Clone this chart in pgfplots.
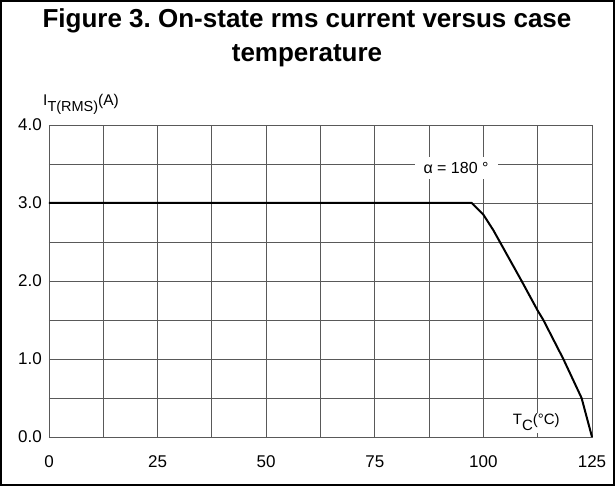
\documentclass[border=0pt]{standalone}
\usepackage{fontspec}
\setmainfont{Liberation Sans}
\usepackage{pgfplots}
\pgfplotsset{compat=1.18}
\frenchspacing
\begin{document}
\begin{tikzpicture}
\begin{axis}[
  at={(0pt,0pt)}, anchor=origin,
  scale only axis, width=543pt, height=312pt,
  xmin=0, xmax=125, ymin=0, ymax=4,
  xtick={0,25,...,125},
  minor xtick={12.5,37.5,62.5,87.5,112.5},
  ytick={0,1,...,4},
  minor ytick={0.5,1.5,2.5,3.5},
  grid=both,
  major grid style={black!65, line width=0.9pt},
  minor grid style={black!65, line width=0.9pt},
  axis line style={black!65, line width=0.9pt},
  major tick length=0pt, minor tick length=0pt,
  /pgf/number format/assume math mode=true,
  tick label style={font=\fontsize{17}{19}\selectfont, inner sep=0pt},
  xticklabel style={anchor=base},
  xticklabel shift=31pt,
  yticklabel style={anchor=east, /pgf/number format/.cd, fixed, fixed zerofill, precision=1},
  yticklabel shift=7pt,
  clip=false,
]
\addplot[black, line width=2pt] coordinates {
  (0,3.0) (97.3,3.0) (100,2.85) (102.3,2.65) (105.5,2.33) (108.8,2.0)
  (112.5,1.62) (113.8,1.5) (118.4,1.0) (122.6,0.5) (125,0.0)
};
\node[fill=white, inner xsep=9pt, inner ysep=5pt, font=\fontsize{16}{18}\selectfont]
  at (axis cs:93.7,3.45) {α = 180 °};
\node[fill=white, inner sep=1.5pt, anchor=base west, font=\fontsize{15}{17}\selectfont]
  at (axis cs:106.4,0.154) {T\raisebox{-6pt}{C}(°C)};
\node[anchor=base west, inner sep=0pt, font=\fontsize{15.5}{17}\selectfont]
  at ([xshift=-6pt, yshift=19pt]rel axis cs:0,1) {I\raisebox{-6pt}{\fontsize{14.5}{15}\selectfont T(RMS)}(A)};
\end{axis}
\node[anchor=base, font=\fontsize{26}{28}\selectfont\bfseries] at (258pt,409pt) {Figure 3. On-state rms current versus case};
\node[anchor=base, font=\fontsize{26}{28}\selectfont\bfseries] at (258pt,375pt) {temperature};
\draw[line width=2pt] (-48pt,-48pt) rectangle (565pt,436pt);
\end{tikzpicture}
\end{document}
